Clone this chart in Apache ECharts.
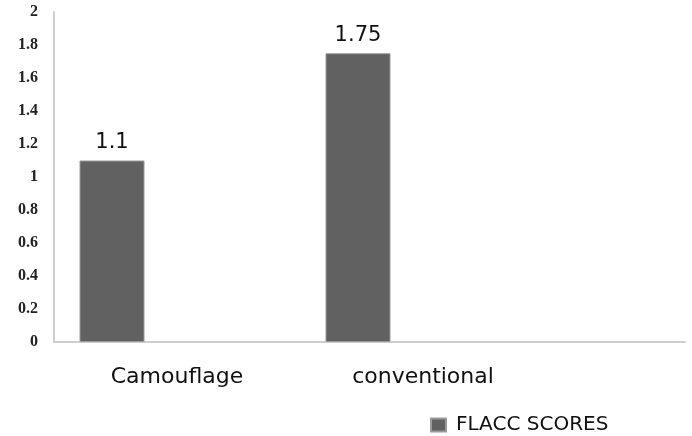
<!DOCTYPE html>
<html>
<head>
<meta charset="utf-8">
<script src="https://cdn.jsdelivr.net/npm/echarts@6/dist/echarts.min.js"></script>
<style>
  html, body { margin: 0; padding: 0; background: #fff; }
  #chart { width: 692px; height: 436px; }
</style>
</head>
<body>
<div id="chart"></div>
<script>
// Mean FLACC pain scores by technique
const categories = ['Camouflage', 'conventional'];
const seriesName = 'FLACC SCORES';
const flaccScores = [1.1, 1.75];
const yTicks = [0, 0.2, 0.4, 0.6, 0.8, 1, 1.2, 1.4, 1.6, 1.8, 2];

const chart = echarts.init(document.getElementById('chart'));

const barStyle = { color: '#616161', borderColor: '#9a9a9a', borderWidth: 1 };
const axisGray = '#cfcfcf';
const sansFont = 'DejaVu Sans';

chart.setOption({
  animation: false,
  backgroundColor: '#ffffff',
  grid: [
    // plot area holding the two category bands
    { left: 54, width: 492, top: 12, bottom: 94 },
    // full-width frame that carries the long baseline
    { left: 54, right: 7, top: 12, bottom: 94 }
  ],
  legend: {
    data: [seriesName],
    left: 425, top: 410,
    itemWidth: 15, itemHeight: 13,
    icon: 'rect',
    textStyle: { fontFamily: sansFont, fontSize: 20, color: '#111', padding: [0, 0, 0, 5] }
  },
  xAxis: [
    {
      type: 'category', gridIndex: 0,
      data: categories,
      axisLine: { show: false },
      axisTick: { show: false },
      axisLabel: {
        margin: 24,
        fontFamily: sansFont, fontSize: 22, color: '#111'
      }
    },
    {
      type: 'value', gridIndex: 1,
      axisLine: { show: true, lineStyle: { color: axisGray, width: 2 } },
      axisTick: { show: false },
      axisLabel: { show: false },
      splitLine: { show: false }
    }
  ],
  yAxis: [
    {
      type: 'value', gridIndex: 0,
      min: yTicks[0], max: yTicks[yTicks.length - 1], interval: 0.2,
      axisLine: { show: true, lineStyle: { color: axisGray, width: 2 } },
      axisTick: { show: false },
      splitLine: { show: false },
      axisLabel: {
        margin: 16,
        fontFamily: 'Liberation Serif', fontWeight: 'bold', fontSize: 16, color: '#222',
        formatter: v => String(Math.round(v * 10) / 10)
      }
    },
    {
      type: 'value', gridIndex: 1, show: false
    }
  ],
  series: [
    {
      name: seriesName, type: 'bar', data: flaccScores,
      xAxisIndex: 0, yAxisIndex: 0,
      barWidth: 65, barGap: '0%',
      itemStyle: barStyle,
      label: {
        show: true, position: 'top', distance: 7,
        fontFamily: sansFont, fontSize: 21, color: '#111'
      }
    },
    // empty companions that share each category band
    { name: 'spacer1', type: 'bar', data: [], xAxisIndex: 0, yAxisIndex: 0, barWidth: 65, barGap: '0%' },
    { name: 'spacer2', type: 'bar', data: [], xAxisIndex: 0, yAxisIndex: 0, barWidth: 65, barGap: '0%' }
  ]
});
</script>
</body>
</html>
